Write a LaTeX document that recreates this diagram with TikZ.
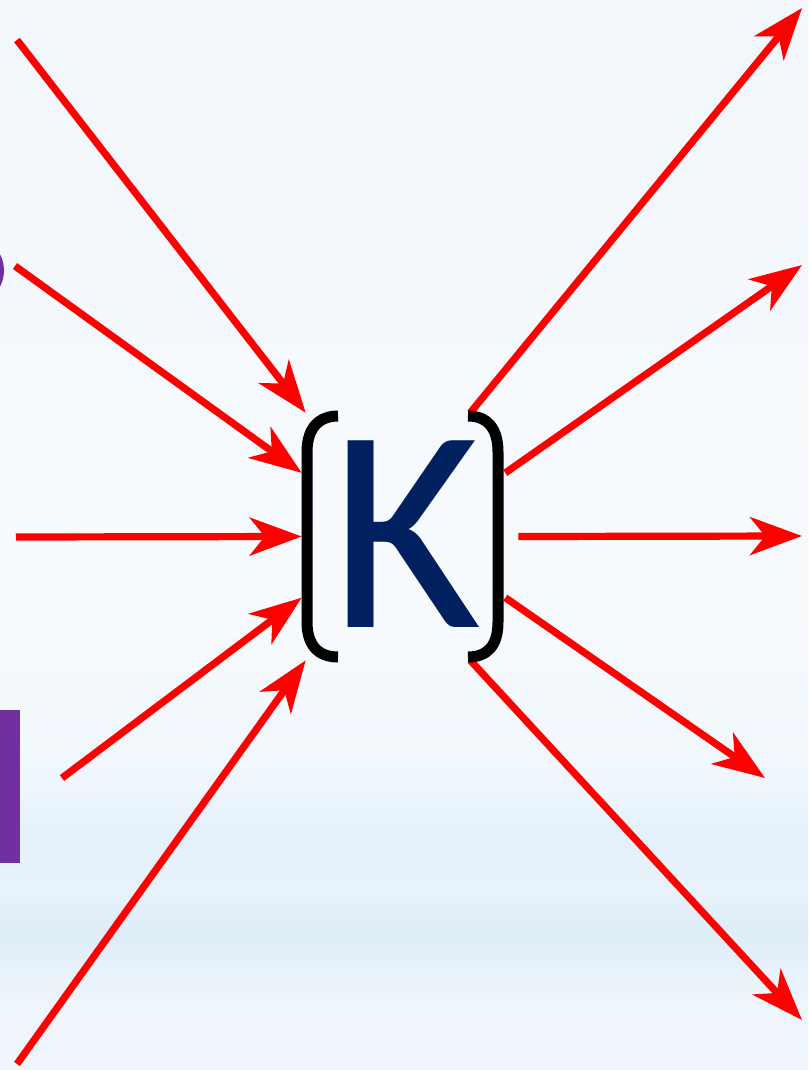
\documentclass[tikz,border=0pt]{standalone}
\usepackage{fontspec}
\setmainfont{Carlito}
\usetikzlibrary{arrows.meta, positioning}
\definecolor{red1}{RGB}{255, 0, 0}
\definecolor{navy1}{RGB}{0, 32, 96}
\definecolor{purple1}{RGB}{112, 48, 160}
\definecolor{sky1}{RGB}{242, 247, 252}
\definecolor{sky2}{RGB}{248, 251, 254}
\definecolor{sky3}{RGB}{240, 247, 252}
\definecolor{sky4}{RGB}{228, 240, 250}
\definecolor{sky5}{RGB}{232, 242, 250}
\definecolor{sky6}{RGB}{222, 237, 248}
\definecolor{sky7}{RGB}{238, 245, 251}
\definecolor{sky8}{RGB}{240, 246, 252}

\begin{document}
\begin{tikzpicture}[
    x=0.025cm, y=-0.025cm,
    arr/.style={-{Stealth[length=1.3cm, width=0.95cm, inset=0.38cm]}, line width=0.18cm, red1},
    bracketline/.style={line width=0.275cm, black},
    kletter/.style={font=\fontsize{207}{207}\selectfont, text=navy1, inner sep=0pt},
    hub/.style={rectangle, minimum width=5.075cm, minimum height=6.175cm, inner sep=0pt},
  ]

  % Background
  \useasboundingbox (0,0) rectangle (808,1070);
  \clip (0,0) rectangle (808,1070);
  \foreach \ya/\yb/\ca/\cb in {0/601/sky1/sky2, 600/781/sky2/sky3, 780/831/sky3/sky4,
      830/891/sky4/sky5, 890/931/sky5/sky6, 930/1001/sky6/sky7, 1000/1070/sky7/sky8}
    \shade[top color=\ca, bottom color=\cb] (0,\ya) rectangle (808,\yb);

  % Cut-off shapes at the left edge
  \fill[purple1] (-20,238) .. controls (12,248) and (12,293) .. (-20,303) -- cycle;
  \fill[purple1] (-5,710) rectangle (20,863);

  % Centre
  \node[hub] (brk) at (403.5, 536.5) {};
  \node[kletter] (kay) at (406, 534) {K};

  % Free ends
  \coordinate (in1) at (17, 40);
  \coordinate (in2) at (15, 266);
  \coordinate (in3) at (16, 537);
  \coordinate (in4) at (62, 778);
  \coordinate (in5) at (17, 1064);
  \coordinate (out1) at (802, 8);
  \coordinate (out2) at (802, 265);
  \coordinate (out3) at (802, 536);
  \coordinate (out4) at (765, 778);
  \coordinate (out5) at (802, 1020);

  % Incoming arrows
  \draw[arr] (in1) -- ([xshift=0.1cm]brk.north west);
  \draw[arr] (in2) -- (brk.148);
  \draw[arr] (in3) -- (brk.west);
  \draw[arr] (in4) -- (brk.211);
  \draw[arr] (in5) -- ([xshift=0.1cm]brk.south west);

  % Outgoing arrows
  \draw[arr] ([xshift=-0.875cm]brk.north east) -- (out1);
  \draw[arr] (brk.32) -- (out2);
  \draw[arr] ([xshift=0.325cm]brk.east) -- (out3);
  \draw[arr] (brk.-31) -- (out4);
  \draw[arr] ([xshift=-0.875cm]brk.south east) -- (out5);

  % Brackets
  \draw[bracketline] (338,416) .. controls (319,416) and (307,428) .. (307,452)
    -- (307,622) .. controls (307,646) and (319,657) .. (338,657);
  \draw[bracketline] (468,416) .. controls (487,416) and (498,428) .. (498,452)
    -- (498,622) .. controls (498,646) and (487,657) .. (468,657);

\end{tikzpicture}
\end{document}
